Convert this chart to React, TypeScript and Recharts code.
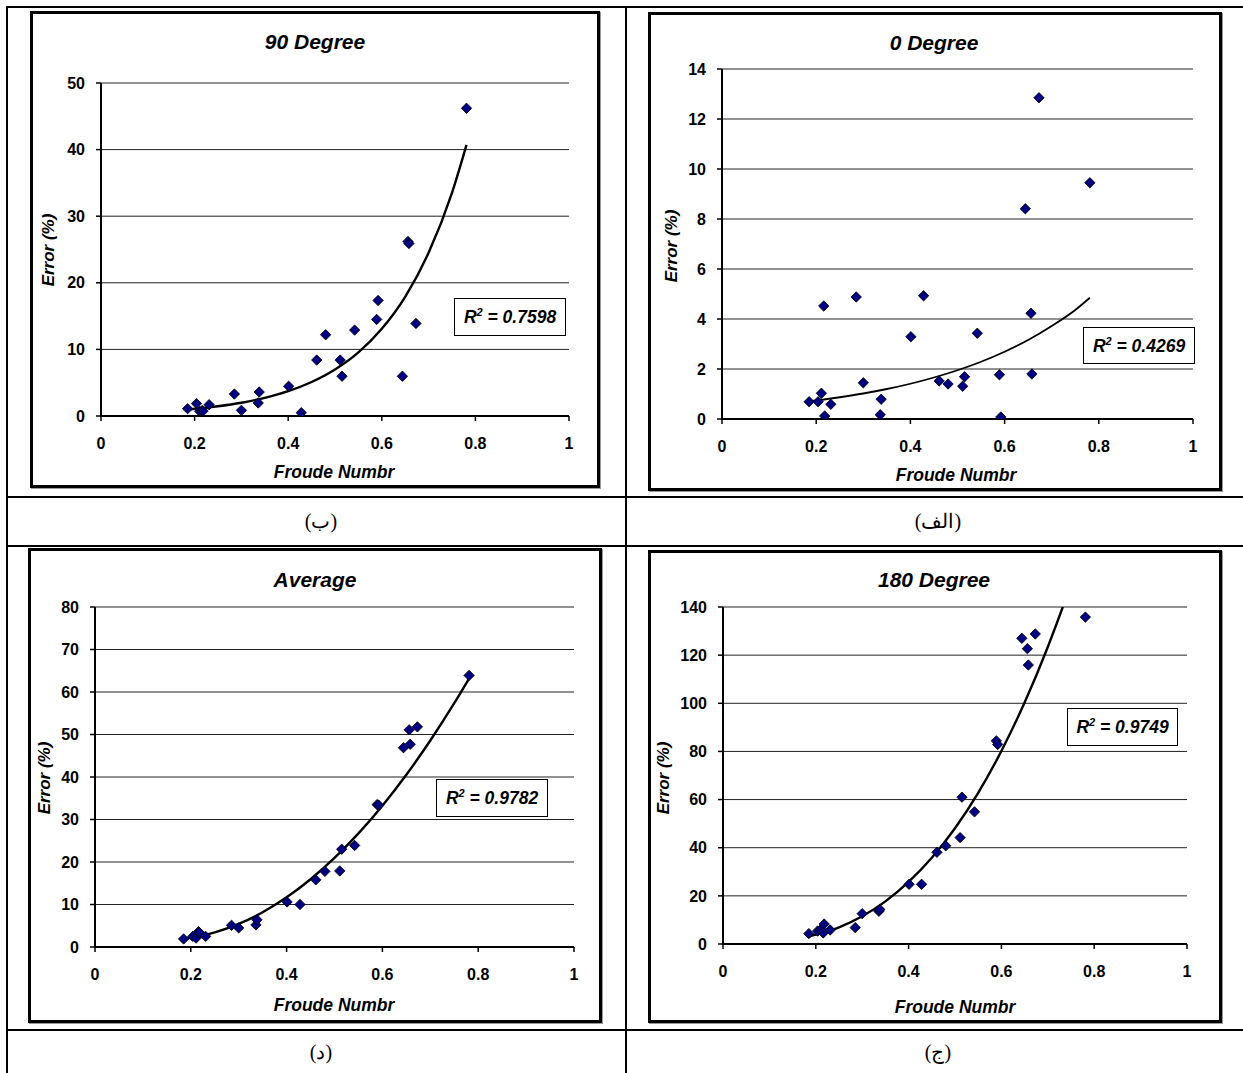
import React from 'react';
import { ComposedChart, Scatter, Line, XAxis, YAxis, CartesianGrid } from 'recharts';

// ---------- data ----------
const FROUDE = [0.185, 0.204, 0.211, 0.216, 0.218, 0.231, 0.285, 0.300, 0.336, 0.338, 0.401, 0.428, 0.461, 0.480, 0.511, 0.515, 0.542, 0.589, 0.592, 0.644, 0.656, 0.658, 0.673, 0.781];
const ERR_0 = [0.69, 0.69, 1.03, 4.52, 0.12, 0.59, 4.88, 1.45, 0.17, 0.79, 3.29, 4.93, 1.52, 1.40, 1.31, 1.69, 3.43, 1.77, 0.08, 8.41, 4.23, 1.80, 12.85, 9.45];
const ERR_90 = [1.1, 1.86, 0.7, 0.8, 0.75, 1.7, 3.3, 0.85, 1.96, 3.6, 4.46, 0.5, 8.4, 12.2, 8.4, 5.97, 12.9, 14.5, 17.35, 5.97, 26.2, 25.9, 13.9, 46.2];
const ERR_180 = [4.3, 5.4, 6.1, 4.6, 8.3, 5.8, 6.8, 12.6, 13.6, 14.3, 24.8, 24.8, 38.1, 40.8, 44.2, 61.0, 54.9, 84.4, 82.9, 127.0, 122.7, 115.9, 128.8, 135.8];
const ERR_AVG = [1.9, 2.5, 2.1, 3.6, 3.4, 2.5, 5.1, 4.5, 5.2, 6.4, 10.6, 10.0, 15.8, 17.8, 17.9, 23.0, 23.9, 33.5, 33.4, 46.9, 51.1, 47.7, 51.8, 63.9];

// trendline values
const TREND_X = [0.185, 0.22, 0.25, 0.3, 0.35, 0.4, 0.45, 0.5, 0.55, 0.6, 0.65, 0.7, 0.75, 0.781];
const TREND_90 = [0.97, 1.21, 1.46, 1.99, 2.73, 3.73, 5.11, 6.99, 9.56, 13.1, 17.9, 24.5, 33.5, 40.7];
const TREND_0 = [0.71, 0.79, 0.87, 1.02, 1.2, 1.41, 1.66, 1.95, 2.29, 2.69, 3.16, 3.72, 4.36, 4.85];
const TREND_180 = [3.2, 4.8, 6.9, 11.5, 17.7, 25.8, 35.8, 48.1, 62.8, 80.2, 100.3, 123.4, 149.7, 167.7];
const TREND_AVG = [1.95, 2.58, 3.42, 5.42, 8.17, 11.68, 15.94, 20.95, 26.73, 33.26, 40.53, 48.58, 57.37, 63.2];

const X_TICKS = [0, 0.2, 0.4, 0.6, 0.8, 1];
const Y_TICKS_90 = [0, 10, 20, 30, 40, 50];
const Y_TICKS_0 = [0, 2, 4, 6, 8, 10, 12, 14];
const Y_TICKS_AVG = [0, 10, 20, 30, 40, 50, 60, 70, 80];
const Y_TICKS_180 = [0, 20, 40, 60, 80, 100, 120, 140];

const TITLES = ['90 Degree', '0 Degree', 'Average', '180 Degree'];
const R2 = ['0.7598', '0.4269', '0.9782', '0.9749'];
const CAPTIONS = ['(ب)', '(الف)', '(د)', '(ج)'];
const X_TITLE = 'Froude Numbr';
const Y_TITLE = 'Error (%)';

const toPts = (xs: number[], ys: number[]) => xs.map((x, i) => ({ x, y: ys[i] }));

// ---------- layout ----------
const FONT = '"Liberation Sans", Arial, Helvetica, sans-serif';

const PANELS = [
  {
    title: TITLES[0], r2: R2[0], points: toPts(FROUDE, ERR_90), trend: toPts(TREND_X, TREND_90), yTicks: Y_TICKS_90, trendWidth: 2.4,
    box: { l: 30, t: 11, w: 570, h: 477 }, plot: { x0: 101, x1: 569, y0: 83, y1: 416 },
    titlePos: [315, 41], yTitlePos: [48, 250], xTitlePos: [334, 473], r2Box: [454, 298, 112, 38],
  },
  {
    title: TITLES[1], r2: R2[1], points: toPts(FROUDE, ERR_0), trend: toPts(TREND_X, TREND_0), yTicks: Y_TICKS_0, trendWidth: 1.8,
    box: { l: 648, t: 12, w: 574, h: 479 }, plot: { x0: 722, x1: 1193, y0: 69, y1: 419 },
    titlePos: [934, 42], yTitlePos: [671, 246], xTitlePos: [956, 476], r2Box: [1083, 327, 112, 37],
  },
  {
    title: TITLES[2], r2: R2[2], points: toPts(FROUDE, ERR_AVG), trend: toPts(TREND_X, TREND_AVG), yTicks: Y_TICKS_AVG, trendWidth: 2.4,
    box: { l: 28, t: 548, w: 574, h: 475 }, plot: { x0: 95, x1: 574, y0: 607, y1: 947 },
    titlePos: [315, 579], yTitlePos: [44, 778], xTitlePos: [334, 1006], r2Box: [436, 779, 112, 38],
  },
  {
    title: TITLES[3], r2: R2[3], points: toPts(FROUDE, ERR_180), trend: toPts(TREND_X, TREND_180), yTicks: Y_TICKS_180, trendWidth: 2.4,
    box: { l: 648, t: 550, w: 574, h: 473 }, plot: { x0: 723, x1: 1187, y0: 607, y1: 944 },
    titlePos: [934, 579], yTitlePos: [663, 778], xTitlePos: [955, 1008], r2Box: [1067, 708, 111, 38],
  },
];

const CAPTION_POS = [[321, 521], [938, 521], [321, 1052], [938, 1052]];

function Diamond(props: any) {
  const { cx, cy } = props;
  if (cx == null || cy == null || isNaN(cx) || isNaN(cy)) return null;
  const r = 5.2;
  return (
    <path
      d={`M${cx},${cy - r}L${cx + r},${cy}L${cx},${cy + r}L${cx - r},${cy}Z`}
      fill="#000080"
      stroke="#000"
      strokeWidth={0.8}
    />
  );
}

const tickStyle = { fontSize: 16, fontWeight: 700, fill: '#000', fontFamily: FONT };

function Panel({ p }: { p: any }) {
  const B = 3;
  const cw = p.box.w - 2 * B;
  const ch = p.box.h - 2 * B;
  const ox = p.box.l + B;
  const oy = p.box.t + B;
  const XH = 30;
  const yAxisW = p.plot.x0 - ox;
  const margin = {
    top: p.plot.y0 - oy,
    right: ox + cw - p.plot.x1,
    bottom: oy + ch - p.plot.y1 - XH,
    left: 0,
  };
  const yMax = p.yTicks[p.yTicks.length - 1];
  return (
    <div
      style={{
        position: 'absolute',
        left: p.box.l,
        top: p.box.t,
        width: p.box.w,
        height: p.box.h,
        boxSizing: 'border-box',
        border: `${B}px solid #000`,
        background: '#fff',
        boxShadow: '1px 1px 0 #999',
      }}
    >
      <ComposedChart width={cw} height={ch} margin={margin}>
        <CartesianGrid vertical={false} stroke="#222" strokeWidth={1} />
        <XAxis
          type="number"
          dataKey="x"
          domain={[0, 1]}
          ticks={X_TICKS}
          interval={0}
          height={XH}
          tick={tickStyle}
          tickSize={5}
          tickMargin={17}
          axisLine={{ stroke: '#000', strokeWidth: 2 }}
          tickLine={{ stroke: '#000', strokeWidth: 1.5 }}
        />
        <YAxis
          type="number"
          dataKey="y"
          domain={[0, yMax]}
          ticks={p.yTicks}
          interval={0}
          allowDataOverflow
          width={yAxisW}
          tick={tickStyle}
          tickSize={5}
          tickMargin={11}
          axisLine={{ stroke: '#000', strokeWidth: 2 }}
          tickLine={{ stroke: '#000', strokeWidth: 1.5 }}
        />
        <Line
          data={p.trend}
          dataKey="y"
          type="monotone"
          stroke="#000"
          strokeWidth={p.trendWidth}
          dot={false}
          activeDot={false}
          isAnimationActive={false}
        />
        <Scatter data={p.points} dataKey="y" shape={(sp: any) => <Diamond {...sp} />} isAnimationActive={false} />
      </ComposedChart>
    </div>
  );
}

function Text({ x, y, children, size, rotate, italic = true, bold = true, family = FONT, dir }: any) {
  return (
    <div
      dir={dir}
      style={{
        position: 'absolute',
        left: x,
        top: y,
        transform: `translate(-50%, -50%)${rotate ? ` rotate(${rotate}deg)` : ''}`,
        fontFamily: family,
        fontSize: size,
        fontWeight: bold ? 700 : 400,
        fontStyle: italic ? 'italic' : 'normal',
        lineHeight: 1,
        whiteSpace: 'nowrap',
        color: '#000',
      }}
    >
      {children}
    </div>
  );
}

export default function App() {
  const lines = [
    { left: 6, top: 6, width: 2, height: 1067 },
    { left: 6, top: 6, width: 1237, height: 2 },
    { left: 625, top: 6, width: 2, height: 1067 },
    { left: 6, top: 496, width: 1237, height: 2 },
    { left: 6, top: 545, width: 1237, height: 2 },
    { left: 6, top: 1029, width: 1237, height: 2 },
  ];
  return (
    <div style={{ position: 'absolute', left: 0, top: 0, width: 1243, height: 1073, background: '#fff', overflow: 'hidden' }}>
      {lines.map((l, i) => (
        <div key={i} style={{ position: 'absolute', background: '#000', ...l }} />
      ))}
      {PANELS.map((p, i) => (
        <React.Fragment key={i}>
          <Panel p={p} />
          <Text x={p.titlePos[0]} y={p.titlePos[1]} size={21}>{p.title}</Text>
          <Text x={p.yTitlePos[0]} y={p.yTitlePos[1]} size={17}>{''}</Text>
          <Text x={p.yTitlePos[0]} y={p.yTitlePos[1]} size={17} rotate={-90}>{Y_TITLE}</Text>
          <Text x={p.xTitlePos[0]} y={p.xTitlePos[1]} size={17.5}>{X_TITLE}</Text>
          <div
            style={{
              position: 'absolute',
              left: p.r2Box[0],
              top: p.r2Box[1],
              width: p.r2Box[2],
              height: p.r2Box[3],
              boxSizing: 'border-box',
              border: '1.5px solid #000',
              background: '#fff',
              display: 'flex',
              alignItems: 'center',
              justifyContent: 'center',
              fontFamily: FONT,
              fontWeight: 700,
              fontStyle: 'italic',
              fontSize: 17.5,
              whiteSpace: 'nowrap',
            }}
          >
            <span>
              R<sup style={{ fontSize: 11 }}>2</sup> = {p.r2}
            </span>
          </div>
        </React.Fragment>
      ))}
      {CAPTIONS.map((c, i) => (
        <Text
          key={i}
          x={CAPTION_POS[i][0]}
          y={CAPTION_POS[i][1]}
          size={20}
          italic={false}
          bold={false}
          family='"Liberation Serif", "DejaVu Serif", serif'
          dir="rtl"
        >
          {c}
        </Text>
      ))}
    </div>
  );
}
